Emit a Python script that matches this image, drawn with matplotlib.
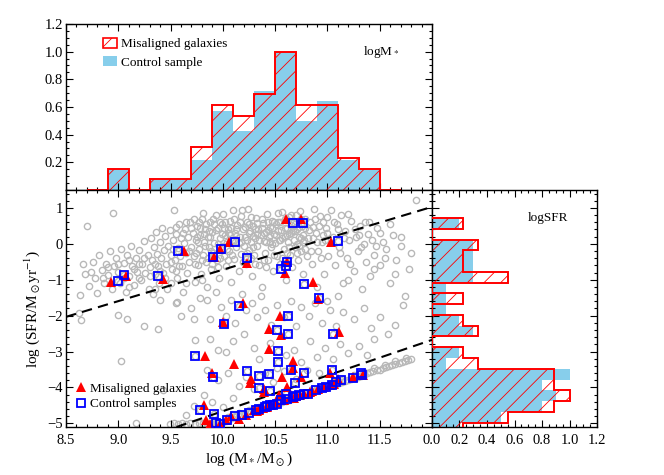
import numpy as np
import matplotlib.pyplot as plt
from matplotlib.patches import Patch
from matplotlib.lines import Line2D
from matplotlib.ticker import MultipleLocator

plt.rcParams['font.family'] = ['Liberation Serif', 'DejaVu Serif']
plt.rcParams['mathtext.fontset'] = 'stix'
plt.rcParams['hatch.linewidth'] = 0.6

# ---- histograms (counts per bin) ----
mass_edges = [8.7, 8.9, 9.1, 9.3, 9.5, 9.7, 9.9, 10.1, 10.3, 10.5, 10.7, 10.9, 11.1, 11.3, 11.5, 11.7]
mass_mis = [0, 2, 0, 1, 1, 4, 8, 7, 9, 13, 8, 8, 3, 2, 0]
mass_ctrl = [0, 2, 0, 1, 1, 3, 8, 6, 10, 14, 7, 9, 3, 2, 0]

sfr_edges = [-5.28, -4.98, -4.68, -4.38, -4.08, -3.78, -3.48, -3.18, -2.88, -2.58, -2.28,
             -1.98, -1.68, -1.38, -1.08, -0.78, -0.48, -0.18, 0.12, 0.42, 0.72]
sfr_mis = [2, 5, 8, 9, 8, 8, 3, 2, 0, 3, 2, 0, 2, 0, 5, 2, 2, 3, 0, 2]
sfr_ctrl = [2, 5, 8, 9, 8, 10, 1, 2, 0, 3, 2, 1, 1, 1, 3, 3, 3, 3, 0, 2]

# ---- parent sample (grey circles), split by region ----
sf_cloud = [
    (8.63, -1.42), (8.66, -0.55), (8.68, -0.85), (8.70, 0.50), (8.72, -1.16), (8.74, -0.78),
    (8.76, -0.50), (8.78, -0.95), (8.80, -1.38), (8.82, -0.32), (8.84, -0.73), (8.86, -1.10),
    (8.88, -0.55), (8.90, -0.88), (8.92, -0.20), (8.94, -1.25), (8.95, 0.86), (8.96, -0.62),
    (8.98, -0.38), (9.00, -0.78), (9.02, -1.08), (9.03, -0.15), (9.05, -0.52), (9.07, -1.35),
    (9.08, -0.30), (9.10, -0.90), (9.12, -0.05), (9.13, -0.62), (9.15, -1.15), (9.17, -0.40),
    (9.18, -0.78), (9.20, -0.18), (9.22, -1.00), (9.23, -0.55), (9.25, 0.08), (9.26, -0.82),
    (9.28, -0.32), (9.29, -1.25), (9.30, -0.65),
    (9.31, 0.15), (9.32, -0.45), (9.33, -1.40), (9.34, -0.10), (9.35, -0.85), (9.36, 0.32),
    (9.37, -0.28), (9.38, -0.62), (9.39, -1.10), (9.40, 0.05), (9.41, -0.40), (9.42, 0.45),
    (9.43, -0.80), (9.44, -0.18), (9.45, 0.22), (9.46, -0.55), (9.47, -1.25), (9.48, -0.05),
    (9.49, 0.38), (9.50, -0.30), (9.51, -0.70), (9.52, 0.10), (9.53, 0.95), (9.54, -0.45),
    (9.55, 0.28), (9.56, -0.95), (9.57, -0.12), (9.58, 0.55), (9.59, -0.35), (9.60, 0.15),
    (9.61, -0.62), (9.62, -1.35), (9.63, 0.02), (9.64, 0.40), (9.65, -0.25), (9.66, -0.80),
    (9.67, 0.20), (9.68, -0.50), (9.69, 0.62), (9.70, -0.08),
    (9.71, 0.30), (9.72, -0.35), (9.73, -1.05), (9.74, 0.12), (9.75, 0.50), (9.76, -0.60),
    (9.77, -0.15), (9.78, 0.25), (9.79, -0.85), (9.80, 0.70), (9.81, -0.30), (9.82, 0.05),
    (9.83, 0.40), (9.84, -0.50), (9.85, -1.20), (9.86, 0.18), (9.87, -0.10), (9.88, 0.60),
    (9.89, -0.70), (9.90, 0.32), (9.91, -0.25), (9.92, 0.02), (9.93, 0.80), (9.94, -0.45),
    (9.95, 0.45), (9.96, -0.95), (9.97, 0.15), (9.98, -0.15), (9.99, 0.55), (10.00, 0.82),
    (10.01, -0.35), (10.02, 0.25), (10.03, -0.62), (10.04, 0.05), (10.05, 0.42), (10.06, -0.20),
    (10.07, 0.65), (10.08, -1.05), (10.09, 0.10), (10.10, 0.95), (10.11, -0.42), (10.12, 0.30),
    (10.13, -0.10), (10.14, 0.52), (10.15, -0.75), (10.16, 0.18), (10.17, -0.28), (10.18, 0.93),
    (10.19, 0.40), (10.20, -0.05),
    (9.74, -0.25), (9.78, 0.45), (9.83, -0.05), (9.88, 0.20), (9.92, 0.55), (9.97, -0.40),
    (10.02, 0.60), (10.06, 0.30), (10.11, 0.12), (10.16, 0.62), (9.76, 0.05), (9.86, -0.40),
    (9.95, 0.00), (10.04, -0.15), (10.13, 0.22), (9.72, 0.70), (9.81, 0.85), (9.90, -0.55),
    (9.99, 0.28), (10.08, 0.45), (10.17, 0.05),
    (10.21, 0.20), (10.22, -0.55), (10.23, 0.62), (10.24, 0.98), (10.25, -0.18), (10.26, 0.35),
    (10.27, 0.05), (10.28, -0.90), (10.29, 0.50), (10.30, -0.30), (10.31, 0.15), (10.32, 0.72),
    (10.33, -0.05), (10.34, 0.40), (10.35, -0.60), (10.36, 0.25), (10.37, -1.20), (10.38, 0.58),
    (10.39, 0.08), (10.40, -0.25), (10.41, 0.32), (10.42, 0.82), (10.43, -0.45), (10.44, 0.18),
    (10.45, 0.48), (10.46, -0.10), (10.47, 0.65), (10.48, -0.75), (10.49, 0.28), (10.50, 0.02),
    (10.51, 0.55), (10.52, -0.35), (10.53, 0.85), (10.54, 0.12), (10.55, -0.55), (10.56, 0.38),
    (10.57, 0.90), (10.58, -0.15), (10.59, 0.22), (10.60, -1.00), (10.61, 0.45), (10.62, 0.05),
    (10.63, 0.75), (10.64, -0.30), (10.65, 0.30), (10.66, -0.65), (10.67, 0.60), (10.68, 0.12),
    (10.69, -0.08), (10.70, 0.80), (10.71, 0.40), (10.72, -0.45), (10.73, 0.20), (10.74, 0.92),
    (10.75, -0.20), (10.76, 0.50), (10.77, -0.85), (10.78, 0.10), (10.79, 0.68), (10.80, -0.35),
    (10.25, 0.55), (10.33, 0.28), (10.41, 0.05), (10.49, 0.62), (10.57, 0.15), (10.65, 0.52),
    (10.73, -0.05), (10.29, -0.10), (10.37, 0.45), (10.45, 0.25), (10.53, 0.35), (10.61, -0.25),
    (10.69, 0.35), (10.77, 0.25), (10.23, 0.10), (10.31, 0.42), (10.39, -0.45), (10.47, 0.00),
    (10.55, 0.62), (10.63, 0.28), (10.71, 0.00), (10.79, 0.45), (10.27, -0.40), (10.43, 0.60),
    (10.59, 0.45), (10.75, 0.15),
    (10.81, 0.15), (10.83, 0.62), (10.85, -0.55), (10.87, 0.98), (10.89, 0.30), (10.91, -0.20),
    (10.93, 0.78), (10.95, 0.05), (10.97, -0.85), (10.99, 0.45), (11.01, -0.35), (11.03, 0.95),
    (11.05, 0.20), (11.07, -0.60), (11.09, 0.55), (11.11, -0.10), (11.13, 0.80), (11.15, -1.10),
    (11.17, 0.35), (11.19, -0.40), (11.21, 0.10), (11.23, 0.65), (11.25, -0.75), (11.27, 0.20),
    (11.29, -0.20), (11.31, 0.50), (11.33, -1.25), (11.35, 0.00), (11.37, -0.50), (11.39, 0.28),
    (11.41, -0.90), (11.43, 0.10), (11.45, -0.30), (11.47, 0.45), (11.50, -0.60), (11.53, 0.05),
    (11.56, -0.15), (11.60, -1.10), (11.63, 0.25), (11.66, -0.45), (11.70, -0.05), (11.74, -1.45),
    (11.78, -0.70), (11.85, 1.21), (10.90, -1.20), (11.10, -1.45), (11.20, -1.00), (11.00, -1.60),
    (10.86, 0.48), (10.96, 0.25), (11.06, 0.60), (11.16, 0.15), (11.26, 0.42), (11.36, 0.62),
    (11.46, -0.05), (11.12, -0.25), (11.22, -0.55), (11.32, -0.10),
    # denser core
    (9.52, -0.15), (9.55, 0.48), (9.58, -0.62), (9.62, 0.30), (9.65, 0.62), (9.68, -0.20),
    (9.70, 0.45), (9.73, -0.55), (9.75, 0.20), (9.77, 0.62), (9.80, -0.45), (9.82, 0.28),
    (9.84, 0.55), (9.87, 0.35), (9.89, -0.20), (9.91, 0.70), (9.93, 0.38), (9.95, -0.65),
    (9.97, 0.62), (9.99, -0.05), (10.01, 0.45), (10.03, 0.15), (10.05, -0.45), (10.07, 0.25),
    (10.09, -0.30), (10.11, 0.70), (10.13, 0.42), (10.15, 0.02), (10.17, 0.78), (10.19, -0.50),
    (10.21, 0.48), (10.23, -0.25), (10.25, 0.30), (10.27, 0.75), (10.29, 0.22), (10.31, -0.55),
    (10.33, 0.58), (10.35, 0.10), (10.37, 0.68), (10.39, 0.30), (10.41, -0.65), (10.43, 0.38),
    (10.45, 0.05), (10.47, 0.45), (10.49, -0.30), (10.51, 0.25), (10.53, 0.62), (10.55, 0.10),
    (10.57, -0.40), (10.59, 0.70), (10.61, 0.25), (10.63, -0.10), (10.65, 0.80), (10.67, 0.35),
    (10.69, 0.55), (10.71, -0.25), (10.73, 0.48), (10.75, 0.70), (10.77, 0.05), (10.79, -0.15),
    (10.82, 0.38), (10.84, -0.20), (10.86, 0.15), (10.88, 0.70), (10.90, 0.05), (10.92, 0.50),
    (10.94, -0.40), (10.96, 0.62), (10.98, 0.10), (11.00, 0.30),
    (9.00, -0.55), (9.05, -0.95), (9.10, -0.45), (9.15, -0.70), (9.20, -0.95), (9.25, -0.40),
    (9.30, -0.90), (9.35, -0.55), (9.40, -0.75), (9.45, -0.95), (9.50, -0.50), (9.55, -0.75),
    (9.20, -0.55), (8.90, -0.65), (8.85, -0.95), (9.10, -1.20), (9.35, -1.25), (9.50, -1.10),
    (9.65, -1.10), (9.80, -1.00),
    (11.00, 0.75), (11.10, 0.40), (11.20, 0.82), (11.30, 0.25), (11.40, 0.60), (11.50, 0.30),
    (11.60, 0.55), (11.70, 0.20), (11.80, -0.25), (11.55, -0.40), (11.45, -0.70), (11.65, -0.85),
]

green_valley = [
    (8.62, -1.92), (8.64, -2.12), (9.00, -1.98), (9.08, -2.08), (9.25, -2.30), (9.38, -2.36),
    (9.03, -3.26), (9.17, -4.99), (9.40, -1.55), (9.55, -1.65), (9.60, -2.00),
    (9.56, -1.62), (9.70, -1.80), (9.72, -2.08), (9.78, -1.50), (9.85, -1.55), (9.88, -2.10),
    (9.93, -1.35), (9.98, -1.75), (10.03, -2.00), (10.08, -1.55), (10.12, -2.20), (10.18, -1.40),
    (10.22, -1.85), (10.28, -1.65), (10.33, -2.05), (10.36, -1.45), (10.40, -1.85), (10.46, -2.25),
    (10.52, -1.70), (10.58, -2.05), (10.65, -1.60), (10.70, -2.30), (10.75, -1.75), (10.82, -2.00),
    (10.88, -1.65), (10.95, -2.20), (11.02, -1.85), (11.08, -2.30), (11.15, -1.90), (11.25, -2.10),
    (11.35, -1.80), (11.42, -2.35), (11.50, -2.05), (11.58, -2.50), (11.65, -2.25), (11.72, -1.70),
    (9.73, -2.69), (9.88, -2.65), (9.95, -2.95), (10.03, -3.01), (10.10, -2.70), (10.20, -2.50),
    (10.30, -2.90), (10.35, -3.20), (10.45, -2.75), (10.52, -3.45), (10.60, -3.10), (10.68, -2.95),
    (10.75, -3.30), (10.83, -2.70), (10.90, -3.15), (10.98, -2.90), (11.05, -3.20), (11.12, -2.80),
    (11.20, -3.05), (11.30, -2.85), (11.38, -3.10), (11.45, -2.65), (9.85, -3.50), (9.95, -3.80),
    (10.05, -3.60), (10.15, -3.95), (10.22, -3.70), (10.30, -4.05), (10.40, -3.60), (10.48, -3.85),
    (10.58, -3.55), (10.70, -3.75), (10.80, -3.50), (10.92, -3.60), (9.82, -4.20), (9.90, -4.40),
    (9.72, -4.52), (9.65, -4.77), (9.43, -4.08), (10.10, -4.30), (10.00, -4.55),
]

red_ridge = [
    (9.49, -5.01), (9.53, -5.00), (9.57, -5.01), (9.61, -5.00), (9.65, -5.01), (9.69, -5.00),
    (9.73, -5.01), (9.77, -5.00), (9.81, -5.00), (9.85, -5.01), (9.89, -4.99), (9.93, -5.00),
    (9.97, -4.98), (10.00, -4.95), (10.03, -4.92), (10.06, -4.89), (10.09, -4.86), (10.12, -4.83),
    (10.15, -4.80), (10.18, -4.78), (10.21, -4.75), (10.24, -4.72), (10.27, -4.69), (10.30, -4.66),
    (10.33, -4.63), (10.36, -4.60), (10.39, -4.57), (10.42, -4.54), (10.45, -4.51), (10.48, -4.48),
    (10.51, -4.46), (10.54, -4.43), (10.57, -4.40), (10.60, -4.37), (10.63, -4.34), (10.66, -4.31),
    (10.69, -4.28), (10.72, -4.25), (10.75, -4.22), (10.78, -4.19), (10.81, -4.16), (10.84, -4.14),
    (10.87, -4.11), (10.90, -4.08), (10.93, -4.05), (10.96, -4.02), (10.99, -3.99), (11.02, -3.96),
    (11.05, -3.93), (11.08, -3.90), (11.11, -3.87), (11.14, -3.84), (11.17, -3.82), (11.20, -3.79),
    (11.23, -3.76), (11.26, -3.73), (11.29, -3.70), (11.32, -3.67), (11.35, -3.64), (11.38, -3.61),
    (11.41, -3.58), (11.44, -3.55), (11.47, -3.52), (11.50, -3.50), (11.53, -3.47), (11.56, -3.44),
    (11.59, -3.41), (11.62, -3.38), (11.65, -3.35), (11.68, -3.32), (11.71, -3.29), (11.74, -3.26),
    (11.77, -3.23), (11.80, -3.20),
    (10.05, -4.82), (10.15, -4.72), (10.25, -4.63), (10.35, -4.53), (10.45, -4.43), (10.55, -4.34),
    (10.65, -4.24), (10.75, -4.14), (10.85, -4.05), (10.95, -3.95), (11.05, -3.85), (11.15, -3.76),
    (11.25, -3.66), (11.35, -3.56), (11.45, -3.46), (11.55, -3.37), (11.65, -3.27), (11.75, -3.18),
]

# ---- misaligned galaxies (red triangles) ----
misaligned = [
    (10.60, 0.70), (10.75, 0.68), (10.06, 0.04), (9.97, -0.13), (11.03, 0.05), (9.63, -0.20),
    (9.92, -0.36), (10.23, -0.52), (10.61, -0.50), (10.59, -0.80), (8.93, -1.06), (9.07, -0.89),
    (9.43, -0.99), (10.86, -1.06), (10.91, -1.53), (10.19, -1.64), (10.00, -2.19), (10.55, -2.02),
    (10.44, -2.36), (10.56, -2.55), (11.11, -2.45), (10.44, -2.92), (9.83, -3.12), (10.11, -3.35),
    (10.67, -3.27), (10.67, -3.45), (9.90, -3.60), (10.27, -3.75), (10.57, -3.71), (10.75, -3.71),
    (11.24, -3.71), (11.34, -3.66), (11.02, -3.61), (11.10, -3.76), (10.26, -3.87), (10.61, -3.99),
    (11.02, -3.94), (10.91, -4.05), (10.39, -4.05), (10.97, -4.00), (11.06, -3.90), (10.85, -4.10),
    (10.39, -4.13), (10.54, -4.22), (10.64, -4.26), (10.74, -4.22), (10.83, -4.13), (10.68, -4.28),
    (10.78, -4.18), (10.58, -4.36), (10.70, -4.25), (10.51, -4.40), (10.33, -4.65), (10.35, -4.62),
    (10.42, -4.54), (10.46, -4.49), (10.38, -4.58), (9.82, -4.50), (10.30, -4.64), (9.84, -4.91),
    (10.03, -4.91), (10.15, -4.87), (10.22, -4.76), (10.08, -4.80), (9.88, -5.02), (9.97, -5.03),
]

# ---- control sample (blue squares) ----
control = [
    (10.67, 0.59), (10.77, 0.59), (10.12, 0.05), (9.98, -0.13), (11.10, 0.07), (9.57, -0.20),
    (9.91, -0.36), (10.23, -0.39), (10.61, -0.50), (10.56, -0.71), (10.60, -0.62), (9.00, -1.03),
    (9.05, -0.87), (9.38, -0.90), (10.78, -1.12), (10.92, -1.52), (10.15, -1.73), (10.01, -2.24),
    (10.62, -2.00), (10.52, -2.41), (10.62, -2.50), (11.05, -2.52), (10.53, -2.98), (9.73, -3.12),
    (10.53, -3.29), (10.23, -3.54), (10.35, -3.69), (10.44, -3.63), (10.65, -3.50), (10.78, -3.61),
    (9.91, -3.71), (11.04, -3.52), (11.24, -3.73), (11.32, -3.61), (11.33, -3.66), (10.35, -4.01),
    (10.69, -3.87), (10.99, -3.98), (11.04, -3.92), (11.13, -3.80), (10.89, -4.07), (10.95, -4.02),
    (11.08, -3.86), (10.45, -4.11), (10.60, -4.17), (10.61, -4.31), (10.67, -4.26), (10.73, -4.22),
    (10.81, -4.17), (10.78, -4.19), (10.70, -4.24), (10.56, -4.36), (9.78, -4.64), (10.32, -4.64),
    (10.35, -4.61), (10.40, -4.54), (10.45, -4.50), (10.52, -4.45), (10.48, -4.48), (10.42, -4.52),
    (9.92, -4.75), (10.04, -4.91), (10.12, -4.80), (10.18, -4.78), (10.25, -4.72), (9.93, -5.00),
    (9.97, -5.02),
]

# dividing lines: (slope, intercept)
upper_cut = (0.875, -9.47)
lower_cut = (0.993, -14.59)

red = '#ff0000'
sky = '#87ceeb'
grey = '#b8b8b8'


def style(a, xmaj, xmin, ymaj, ymin):
    a.xaxis.set_major_locator(MultipleLocator(xmaj))
    a.xaxis.set_minor_locator(MultipleLocator(xmin))
    a.yaxis.set_major_locator(MultipleLocator(ymaj))
    a.yaxis.set_minor_locator(MultipleLocator(ymin))
    a.tick_params(which='both', direction='in', top=True, right=True, width=0.8,
                  labelsize=10.5, pad=5)
    a.tick_params(which='major', length=5)
    a.tick_params(which='minor', length=2.5)
    for s in a.spines.values():
        s.set_linewidth(1.0)


fig = plt.figure(figsize=(6.64, 4.75), dpi=100)
ax_top = fig.add_axes([0.0994, 0.6, 0.5512, 0.3495])
ax = fig.add_axes([0.0994, 0.1011, 0.5512, 0.4989])
ax_r = fig.add_axes([0.6506, 0.1011, 0.2485, 0.4989])

# top histogram: stellar mass
m_mis = np.array(mass_mis) / max(mass_mis)
m_ctrl = np.array(mass_ctrl) / max(mass_ctrl)
ax_top.stairs(m_ctrl, mass_edges, fill=True, color=sky, lw=0, zorder=1)
ax_top.stairs(m_mis, mass_edges, fill=True, facecolor='none', edgecolor=red, hatch='//',
              lw=0, zorder=2)
ax_top.stairs(m_mis, mass_edges, baseline=0, color=red, lw=1.4, zorder=3)
ax_top.set_xlim(8.5, 12.0)
ax_top.set_ylim(0, 1.2)
style(ax_top, 0.5, 0.1, 0.2, 0.05)
ax_top.set_yticks([0.2, 0.4, 0.6, 0.8, 1.0, 1.2])
ax_top.tick_params(axis='x', labelbottom=False)
ax_top.tick_params(axis='y', pad=2)
ax_top.text(0.86, 0.83, r'logM$_*$', transform=ax_top.transAxes, ha='center', va='center',
            fontsize=9.5)
top_handles = [Patch(facecolor='none', edgecolor=red, hatch='//', lw=1.2),
               Patch(facecolor=sky, edgecolor='none')]
ax_top.legend(top_handles, ['Misaligned galaxies', 'Control sample'], loc='upper left',
              bbox_to_anchor=(0.07, 0.99), frameon=False, fontsize=9.5,
              handlelength=1.0, handleheight=0.8, handletextpad=0.3, labelspacing=0.45)

# main scatter
gx, gy = np.array(sf_cloud + green_valley + red_ridge + control).T
mx, my = np.array(misaligned).T
cx, cy = np.array(control).T
ax.plot(gx, gy, 'o', mfc='none', mec=grey, ms=4.5, mew=1.0, zorder=1)
xl = np.array([8.5, 12.0])
ax.plot(xl, upper_cut[0] * xl + upper_cut[1], color='k', lw=1.5, ls=(0, (5, 3)), zorder=2)
ax.plot(xl, lower_cut[0] * xl + lower_cut[1], color='k', lw=1.5, ls=(0, (5, 3)), zorder=2)
ax.plot(mx, my, '^', color=red, ms=7.5, mew=0, zorder=3)
ax.plot(cx, cy, 's', mfc='none', mec='#0000ff', ms=5.5, mew=1.3, zorder=4)
ax.set_xlim(8.5, 12.0)
ax.set_ylim(-5.1, 1.5)
style(ax, 0.5, 0.1, 1, 0.2)
ax.set_xticks(np.arange(8.5, 12.01, 0.5))
ax.set_xticklabels(['8.5', '9.0', '9.5', '10.0', '10.5', '11.0', '11.5', ''])
ax.tick_params(axis='y', pad=2)
ax.set_xlabel(r'log (M$_*$/M$_\odot$)', fontsize=11, labelpad=3)
ax.set_ylabel(r'log (SFR/M$_\odot$yr$^{-1}$)', fontsize=11, labelpad=4)
main_handles = [Line2D([], [], ls='none', marker='^', color=red, ms=7.5, mew=0),
                Line2D([], [], ls='none', marker='s', mfc='none', mec='#0000ff', ms=5.5, mew=1.3)]
ax.legend(main_handles, ['Misaligned galaxies', 'Control samples'], loc='lower left',
          bbox_to_anchor=(-0.01, 0.02), frameon=False, fontsize=9.5,
          handlelength=1.0, handletextpad=0.2, labelspacing=0.25)

# right histogram: SFR
s_mis = np.array(sfr_mis) / max(sfr_mis)
s_ctrl = np.array(sfr_ctrl) / max(sfr_ctrl)
ax_r.stairs(s_ctrl, sfr_edges, orientation='horizontal', fill=True, color=sky, lw=0, zorder=1)
ax_r.stairs(s_mis, sfr_edges, orientation='horizontal', fill=True, facecolor='none',
            edgecolor=red, hatch='//', lw=0, zorder=2)
ax_r.stairs(s_mis, sfr_edges, orientation='horizontal', baseline=0, color=red, lw=1.4, zorder=3)
ax_r.set_xlim(0, 1.2)
ax_r.set_ylim(-5.1, 1.5)
style(ax_r, 0.2, 0.05, 1, 0.2)
ax_r.set_xticks([0.0, 0.2, 0.4, 0.6, 0.8, 1.0, 1.2])
ax_r.set_xticklabels(['0.0', '0.2', '0.4', '0.6', '0.8', '1.0', '1.2'])
ax_r.tick_params(axis='y', labelleft=False)
ax_r.text(0.70, 0.88, 'logSFR', transform=ax_r.transAxes, ha='center', va='center',
          fontsize=9.5)

fig.savefig('out.png', dpi=100)
